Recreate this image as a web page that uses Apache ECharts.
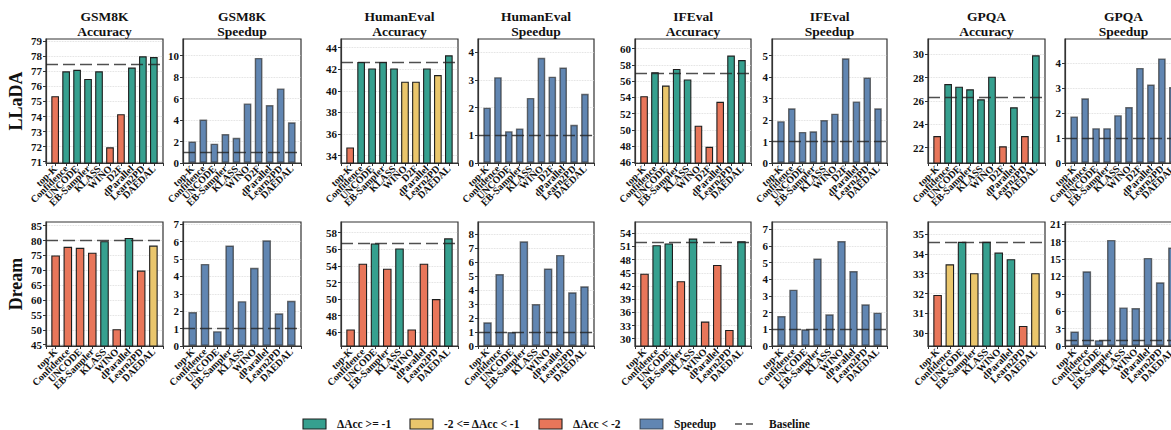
<!DOCTYPE html>
<html>
<head>
<meta charset="utf-8">
<script src="https://cdn.jsdelivr.net/npm/echarts@6/dist/echarts.min.js"></script>
<style>
  html, body { margin: 0; padding: 0; background: #fff; }
  #chart { width: 1171px; height: 430px; }
</style>
</head>
<body>
<div id="chart"></div>
<script>
// ---- data -------------------------------------------------------------
const benchmarks = ['GSM8K', 'HumanEval', 'IFEval', 'GPQA'];
const models = ['LLaDA', 'Dream'];

const methodsLLaDA = ['top-K', 'Confidence', 'UNCODE', 'EB-Sampler', 'KLASS', 'WINO', 'D2F', 'dParallel', 'Learn2PD', 'DAEDAL'];
const methodsDream = ['top-K', 'Confidence', 'UNCODE', 'EB-Sampler', 'KLASS', 'WINO', 'dParallel', 'Learn2PD', 'DAEDAL'];

// LLaDA accuracy / speedup per benchmark
const lladaGsm8kAcc      = [75.35, 77.0, 77.1, 76.5, 77.0, 71.95, 74.15, 77.25, 78.0, 77.95];
const lladaGsm8kSpeedup  = [2.0, 4.05, 1.8, 2.7, 2.35, 5.55, 9.8, 5.4, 6.95, 3.8];
const lladaHumanevalAcc  = [34.76, 42.68, 42.07, 42.68, 42.07, 40.85, 40.85, 42.07, 41.46, 43.29];
const lladaHumanevalSpeedup = [2.0, 3.1, 1.15, 1.25, 2.35, 3.8, 3.12, 3.45, 1.38, 2.5];
const lladaIfevalAcc     = [54.15, 57.1, 55.45, 57.5, 56.2, 50.5, 47.9, 53.45, 59.15, 58.6];
const lladaIfevalSpeedup = [1.95, 2.55, 1.45, 1.48, 2.0, 2.3, 4.88, 2.87, 3.98, 2.55];
const lladaGpqaAcc       = [23.0, 27.45, 27.22, 27.0, 26.14, 28.08, 22.12, 25.46, 23.0, 29.91];
const lladaGpqaSpeedup   = [1.87, 2.6, 1.4, 1.4, 1.92, 2.25, 3.82, 3.15, 4.2, 3.05];
const lladaBaselineAcc   = [77.5, 42.68, 56.95, 26.31];

// Dream accuracy / speedup per benchmark
const dreamGsm8kAcc      = [75.0, 77.9, 77.55, 75.9, 79.8, 50.2, 80.9, 69.9, 78.3];
const dreamGsm8kSpeedup  = [1.95, 4.72, 0.85, 5.78, 2.58, 4.5, 6.08, 1.88, 2.6];
const dreamHumanevalAcc  = [46.34, 54.27, 56.71, 53.66, 56.10, 46.34, 54.27, 50.0, 57.32];
const dreamHumanevalSpeedup = [1.7, 5.15, 1.0, 7.5, 3.0, 5.55, 6.52, 3.85, 4.28];
const dreamIfevalAcc     = [44.8, 51.3, 51.7, 43.1, 52.8, 33.9, 46.8, 32.0, 52.2];
const dreamIfevalSpeedup = [1.8, 3.38, 1.0, 5.25, 1.9, 6.3, 4.5, 2.5, 2.0];
const dreamGpqaAcc       = [31.93, 33.47, 34.6, 33.02, 34.6, 34.06, 33.73, 30.37, 33.02];
const dreamGpqaSpeedup   = [2.5, 12.9, 1.0, 18.3, 6.65, 6.55, 15.2, 11.0, 17.0];
const dreamBaselineAcc   = [80.05, 56.71, 51.95, 34.6];

const speedupBaseline = 1;

// y tick labels per panel
const lladaAccTicks = [[71, 72, 73, 74, 75, 76, 77, 78, 79], [34, 36, 38, 40, 42, 44], [46, 48, 50, 52, 54, 56, 58, 60], [22, 24, 26, 28, 30]];
const lladaSpdTicks = [[0, 2, 4, 6, 8, 10], [0, 1, 2, 3, 4], [0, 1, 2, 3, 4, 5], [0, 1, 2, 3, 4]];
const dreamAccTicks = [[45, 50, 55, 60, 65, 70, 75, 80, 85], [46, 48, 50, 52, 54, 56, 58], [30, 33, 36, 39, 42, 45, 48, 51, 54], [30, 31, 32, 33, 34, 35]];
const dreamSpdTicks = [[0, 1, 2, 3, 4, 5, 6, 7], [0, 1, 2, 3, 4, 5, 6, 7, 8], [0, 1, 2, 3, 4, 5, 6, 7], [0, 3, 6, 9, 12, 15, 18, 21]];

const legendLabels = ['\u0394Acc >= -1', '-2 <= \u0394Acc < -1', '\u0394Acc < -2', 'Speedup', 'Baseline'];

// ---- layout & style ---------------------------------------------------
const FONT = '"Liberation Serif", "Times New Roman", serif';
const C_OK = '#36a08f', C_MID = '#eac66c', C_BAD = '#e8765a', C_SPD = '#6186b2';
const FRAME = '#333';

const colLeft  = [46, 183, 341, 478, 635, 772, 928, 1065];
const colWidth = [117, 118, 117, 116, 116, 115, 117, 117];
const rowTop = [39, 222];
const plotH = 124;

// y ranges [min, max] per panel
const accRange = [
  [[70.91, 79.15], [33.32, 44.8], [45.9, 61.2], [20.69, 31.31]],
  [[44.56, 86.24], [44.35, 59.29], [28.34, 56.57], [29.36, 35.6]]
];
const spdRange = [
  [[0, 11.56], [0, 4.48], [0, 5.78], [0, 4.98]],
  [[0, 7.13], [0, 8.88], [0, 7.44], [0, 21.4]]
];

const accData = [
  [lladaGsm8kAcc, lladaHumanevalAcc, lladaIfevalAcc, lladaGpqaAcc],
  [dreamGsm8kAcc, dreamHumanevalAcc, dreamIfevalAcc, dreamGpqaAcc]
];
const spdData = [
  [lladaGsm8kSpeedup, lladaHumanevalSpeedup, lladaIfevalSpeedup, lladaGpqaSpeedup],
  [dreamGsm8kSpeedup, dreamHumanevalSpeedup, dreamIfevalSpeedup, dreamGpqaSpeedup]
];
const baselines = [lladaBaselineAcc, dreamBaselineAcc];
const accTicks = [lladaAccTicks, dreamAccTicks];
const spdTicks = [lladaSpdTicks, dreamSpdTicks];
const methods = [methodsLLaDA, methodsDream];

function accColor(v, base) {
  const d = Math.round((v - base) * 100) / 100;
  if (d >= -1) return C_OK;
  if (d >= -2) return C_MID;
  return C_BAD;
}

const grids = [], xAxes = [], yAxes = [], series = [];

function addPanel(row, col, cats, values, yr, ticks, baseline, isAcc) {
  const k = grids.length;
  const n = cats.length;
  const span = (n - 1) + 0.7;
  const xmin = -0.35 - 0.05 * span, xmax = n - 1 + 0.35 + 0.05 * span;
  const w = colWidth[col];
  // category positions, padded with blank stops at both ends of the axis
  // so the end labels are never dropped by the min/max overlap check
  const stops = [xmin].concat(cats.map((_, i) => i), [xmax]);
  grids.push({
    left: colLeft[col], top: rowTop[row], width: w, height: plotH,
    show: true, borderColor: FRAME, borderWidth: 1.2, backgroundColor: 'transparent',
    containLabel: false, outerBoundsMode: 'none'
  });
  xAxes.push({
    gridIndex: k, type: 'value', min: xmin, max: xmax,
    axisLine: { show: true, onZero: false, lineStyle: { color: FRAME, width: 1.2 } },
    axisTick: {
      show: true, customValues: stops, length: 3,
      lineStyle: { color: FRAME, width: 1 }
    },
    axisLabel: {
      customValues: stops, rotate: 45, margin: 4, hideOverlap: false,
      formatter: v => (Number.isInteger(v) ? cats[v] : ''),
      fontFamily: FONT, fontWeight: 'bold', fontSize: 10, color: '#111'
    },
    splitLine: { show: false }
  });
  yAxes.push({
    gridIndex: k, type: 'value', min: yr[0], max: yr[1],
    axisLine: { show: true, onZero: false, lineStyle: { color: FRAME, width: 1.2 } },
    axisTick: { show: true, customValues: ticks, length: 3, lineStyle: { color: FRAME, width: 1 } },
    axisLabel: {
      customValues: ticks, margin: 4,
      showMinLabel: true, showMaxLabel: true, hideOverlap: false,
      fontFamily: FONT, fontWeight: 'bold', fontSize: 11, color: '#111'
    },
    splitLine: { show: true, lineStyle: { type: 'dotted', color: '#d6d6d6', width: 0.8 } }
  });
  series.push({
    type: 'bar', xAxisIndex: k, yAxisIndex: k,
    barWidth: 0.7 * w / (xmax - xmin),
    data: values.map((v, i) => ({
      value: [i, v],
      itemStyle: { color: isAcc ? accColor(v, baseline) : C_SPD }
    })),
    itemStyle: isAcc
      ? { borderColor: '#1e1e1e', borderWidth: 1.1 }
      : { borderColor: 'rgba(40,40,40,0.65)', borderWidth: 1.4 },
    emphasis: { disabled: true },
    animation: false,
    markLine: {
      silent: true, symbol: 'none', animation: false,
      label: { show: false },
      lineStyle: { type: [12, 5], color: 'rgba(35,35,35,0.8)', width: 1.3 },
      data: [{ yAxis: baseline }]
    }
  });
}

for (let r = 0; r < 2; r++) {
  for (let b = 0; b < 4; b++) {
    addPanel(r, b * 2, methods[r], accData[r][b], accRange[r][b], accTicks[r][b], baselines[r][b], true);
    addPanel(r, b * 2 + 1, methods[r], spdData[r][b], spdRange[r][b], spdTicks[r][b], speedupBaseline, false);
  }
}

// ---- titles, row labels, legend ----------------------------------------
const graphics = [];
for (let b = 0; b < 4; b++) {
  ['Accuracy', 'Speedup'].forEach((kind, j) => {
    const col = b * 2 + j;
    const cx = colLeft[col] + colWidth[col] / 2;
    graphics.push({ type: 'text', x: cx, y: 16, style: { text: benchmarks[b], font: 'bold 13.5px ' + FONT, fill: '#111', align: 'center', verticalAlign: 'middle' } });
    graphics.push({ type: 'text', x: cx, y: 31, style: { text: kind, font: 'bold 13.5px ' + FONT, fill: '#111', align: 'center', verticalAlign: 'middle' } });
  });
}
models.forEach((m, r) => {
  graphics.push({
    type: 'text', x: 16, y: rowTop[r] + plotH / 2, rotation: Math.PI / 2,
    style: { text: m, font: 'bold 18px ' + FONT, fill: '#111', align: 'center', verticalAlign: 'middle' }
  });
});

const legendY = 424;
const legendPatches = [
  { x: 303, color: C_OK, tx: 337 },
  { x: 410, color: C_MID, tx: 444 },
  { x: 539, color: C_BAD, tx: 573 },
  { x: 640, color: C_SPD, tx: 674 }
];
legendPatches.forEach((p, i) => {
  graphics.push({ type: 'rect', shape: { x: p.x, y: legendY - 5, width: 23, height: 10 },
    style: { fill: p.color, stroke: i === 3 ? 'rgba(40,40,40,0.7)' : '#1e1e1e', lineWidth: 1.1 } });
  graphics.push({ type: 'text', x: p.tx, y: legendY, style: { text: legendLabels[i], font: 'bold 11.5px ' + FONT, fill: '#111', align: 'left', verticalAlign: 'middle' } });
});
graphics.push({ type: 'line', shape: { x1: 735, y1: legendY, x2: 742, y2: legendY }, style: { stroke: '#333', lineWidth: 1.3 } });
graphics.push({ type: 'line', shape: { x1: 746, y1: legendY, x2: 753, y2: legendY }, style: { stroke: '#333', lineWidth: 1.3 } });
graphics.push({ type: 'text', x: 769, y: legendY, style: { text: legendLabels[4], font: 'bold 11.5px ' + FONT, fill: '#111', align: 'left', verticalAlign: 'middle' } });

const chart = echarts.init(document.getElementById('chart'), null, { renderer: 'svg', width: 1171, height: 430 });
chart.setOption({
  animation: false,
  backgroundColor: '#fff',
  grid: grids,
  xAxis: xAxes,
  yAxis: yAxes,
  series: series,
  graphic: graphics
});
</script>
</body>
</html>
